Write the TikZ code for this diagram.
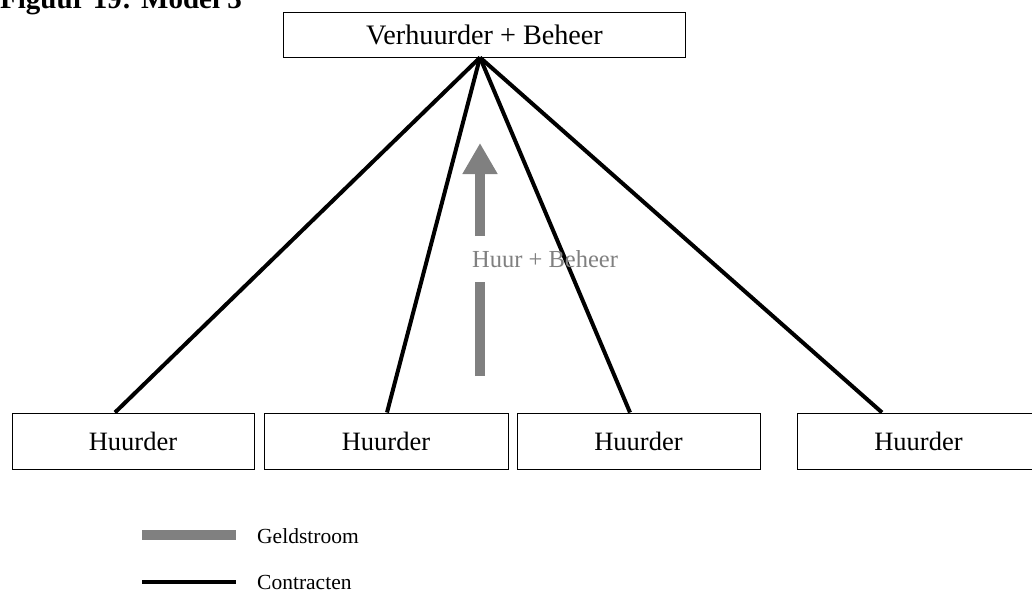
\documentclass[tikz,border=0pt]{standalone}
\usepackage{fontspec}
\setmainfont{Liberation Serif}
\usetikzlibrary{arrows.meta}
\definecolor{flowgray}{HTML}{808080}
\begin{document}
\begin{tikzpicture}[x=1pt,y=-1pt,
  box/.style={draw=black,line width=1pt,minimum height=45pt,inner sep=0pt,font=\fontsize{28.2}{32}\selectfont},
  hbox/.style={draw=black,line width=1pt,minimum height=56pt,minimum width=242pt,inner sep=0pt,font=\fontsize{26.5}{30}\selectfont},
  contract/.style={line width=4pt,black},
  flow/.style={line width=10pt,flowgray},
  legtext/.style={anchor=base west,inner sep=0pt,font=\fontsize{21.5}{24}\selectfont}]
\useasboundingbox (0,0) rectangle (1032,592);
\clip (0,0) rectangle (1032,592);
\node[anchor=base west,inner sep=0pt,font=\bfseries\fontsize{29}{32}\selectfont] (title) at (0,8) {Figuur 19: Model 3};
\node[box,minimum width=402pt] (top) at (484.5,34.5) {Verhuurder + Beheer};
\node[hbox] (h1) at (133,441) {Huurder};
\node[hbox,minimum width=244pt] (h2) at (386,441) {Huurder};
\node[hbox,minimum width=243pt] (h3) at (638.5,441) {Huurder};
\node[hbox,minimum width=243pt] (h4) at (918.5,441) {Huurder};
\coordinate (apex) at ([xshift=-4.5pt]top.south);
\draw[contract] (apex) -- ([xshift=-18pt]h1.north);
\draw[contract] (apex) -- ([xshift=1pt]h2.north);
\draw[contract] (apex) -- ([xshift=-8.5pt]h3.north);
\draw[contract] (apex) -- ([xshift=-36.5pt]h4.north);
% money flow arrow
\coordinate (fbot) at (480,376);
\coordinate (fgap1) at (480,282);
\coordinate (fgap2) at (480,236);
\coordinate (ftip) at (480,143);
\draw[flow] (fbot) -- (fgap1);
\draw[flow,-{Triangle[width=33pt,length=31pt]}] (fgap2) -- (ftip);
\node[anchor=west,inner sep=0pt,text=flowgray,font=\fontsize{24.5}{28}\selectfont] (lab) at (472,259) {Huur + Beheer};
% legend
\coordinate (g1) at (142,535);
\coordinate (g2) at (236,535);
\draw[flow] (g1) -- (g2);
\node[legtext] (gt) at (257,543) {Geldstroom};
\coordinate (c1) at (142,582);
\coordinate (c2) at (236,582);
\draw[contract] (c1) -- (c2);
\node[legtext] (ct) at (257,589) {Contracten};
\end{tikzpicture}
\end{document}
